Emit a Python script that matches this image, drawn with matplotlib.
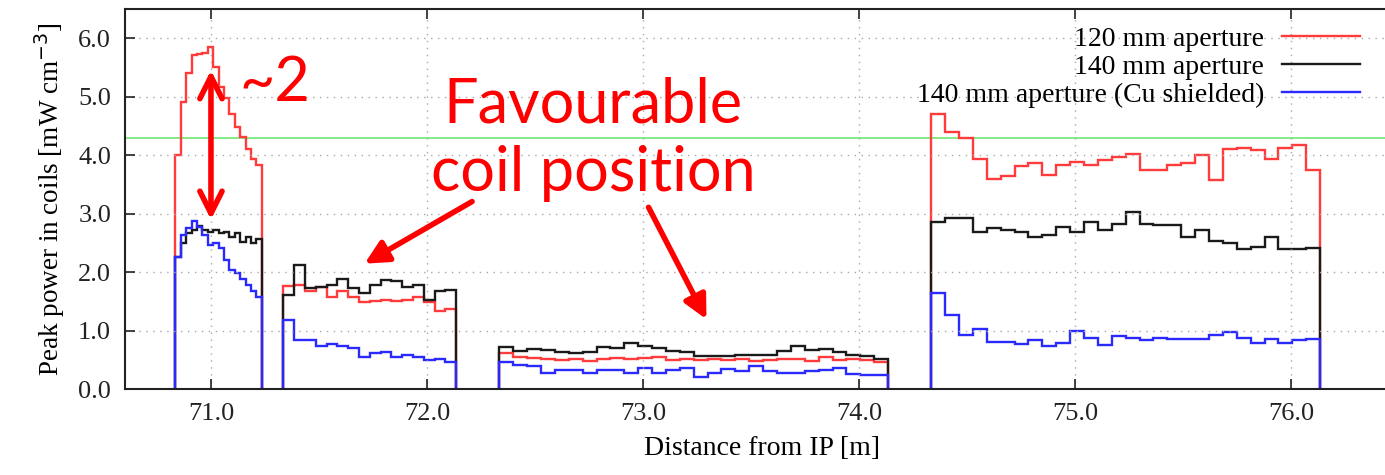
import numpy as np
import matplotlib
matplotlib.use('Agg')
import matplotlib.pyplot as plt

# coil blocks: start, end [m] and number of bins
block_start = [70.835, 71.335, 72.335, 74.335]
block_end = [71.235, 72.135, 74.135, 76.135]
block_bins = [16, 16, 28, 28]

# peak power per bin [mW cm^-3], one list per block
red = [
    [4.00, 4.91, 5.41, 5.71, 5.73, 5.75, 5.85, 5.51, 5.17, 4.97, 4.71, 4.48, 4.31, 4.11, 3.94, 3.83],
    [1.76, 1.78, 1.68, 1.75, 1.57, 1.68, 1.58, 1.49, 1.51, 1.53, 1.50, 1.53, 1.58, 1.49, 1.33, 1.37],
    [0.61, 0.54, 0.53, 0.52, 0.50, 0.52, 0.48, 0.52, 0.53, 0.52, 0.53, 0.55, 0.50, 0.52,
     0.50, 0.51, 0.50, 0.52, 0.48, 0.50, 0.52, 0.52, 0.48, 0.55, 0.50, 0.52, 0.50, 0.46],
    [4.71, 4.40, 4.30, 3.94, 3.60, 3.64, 3.81, 3.86, 3.66, 3.83, 3.88, 3.84, 3.91, 3.97,
     4.02, 3.75, 3.75, 3.83, 3.87, 4.00, 3.58, 4.10, 4.13, 4.09, 3.93, 4.13, 4.17, 3.75],
]
black = [
    [2.25, 2.49, 2.66, 2.72, 2.79, 2.72, 2.68, 2.72, 2.66, 2.68, 2.60, 2.67, 2.52, 2.60, 2.49, 2.57],
    [1.60, 2.12, 1.72, 1.75, 1.78, 1.88, 1.72, 1.64, 1.78, 1.87, 1.84, 1.74, 1.78, 1.53, 1.68, 1.70],
    [0.71, 0.65, 0.68, 0.67, 0.63, 0.61, 0.63, 0.71, 0.70, 0.78, 0.74, 0.70, 0.65, 0.63,
     0.57, 0.57, 0.57, 0.59, 0.58, 0.59, 0.65, 0.74, 0.67, 0.68, 0.63, 0.59, 0.57, 0.52],
    [2.86, 2.93, 2.93, 2.69, 2.76, 2.72, 2.68, 2.60, 2.64, 2.77, 2.68, 2.86, 2.72, 2.82,
     3.03, 2.82, 2.80, 2.80, 2.60, 2.72, 2.54, 2.50, 2.39, 2.43, 2.60, 2.39, 2.39, 2.41],
]
blue = [
    [2.25, 2.63, 2.76, 2.87, 2.77, 2.63, 2.47, 2.50, 2.41, 2.21, 2.04, 1.98, 1.89, 1.78, 1.68, 1.57],
    [1.18, 0.84, 0.84, 0.74, 0.77, 0.73, 0.70, 0.55, 0.61, 0.64, 0.55, 0.59, 0.55, 0.49, 0.51, 0.47],
    [0.455, 0.41, 0.39, 0.27, 0.32, 0.32, 0.28, 0.32, 0.32, 0.28, 0.36, 0.28, 0.32, 0.36,
     0.21, 0.28, 0.35, 0.30, 0.40, 0.30, 0.28, 0.27, 0.30, 0.33, 0.36, 0.25, 0.24, 0.24],
    [1.64, 1.26, 0.92, 1.02, 0.81, 0.81, 0.77, 0.83, 0.74, 0.79, 1.00, 0.88, 0.75, 0.90,
     0.88, 0.83, 0.88, 0.86, 0.86, 0.86, 0.93, 0.97, 0.88, 0.78, 0.85, 0.78, 0.83, 0.85],
]
labels = ['120 mm aperture', '140 mm aperture', '140 mm aperture (Cu shielded)']
colors = ['#ff3b3b', '#1a1a1a', '#2a2aff']
limit = 4.3

plt.rcParams['font.family'] = ['Liberation Serif', 'DejaVu Serif']

fig = plt.figure(figsize=(13.85, 4.75), dpi=100)
ax = fig.add_axes([125 / 1385, 1 - 389 / 475, 1275 / 1385, 380 / 475])

for series, col, lab in zip([red, black, blue], colors, labels):
    for i in range(len(block_start)):
        edges = np.linspace(block_start[i], block_end[i], block_bins[i] + 1)
        ax.stairs(series[i], edges, baseline=0, color=col, lw=1.7,
                  label=lab if i == 0 else None)

ax.axhline(limit, color='#6fe86f', lw=1.2, zorder=0)

ax.set_xlim(70.602, 76.505)
ax.set_ylim(0, 6.5)
ax.set_xticks([71, 72, 73, 74, 75, 76])
ax.set_yticks([0, 1, 2, 3, 4, 5, 6])
ax.xaxis.set_major_formatter('{x:.1f}')
ax.yaxis.set_major_formatter('{x:.1f}')
ax.tick_params(direction='in', length=7, width=1.2, top=True, right=True,
               labelsize=19, colors='#222222', pad=10)
ax.grid(True, color='#a8a8a8', linestyle=(0, (1, 4)), lw=1)
for s in ax.spines.values():
    s.set_linewidth(1.5)
    s.set_color('#222222')

ax.set_xlabel('Distance from IP [m]', fontsize=20, labelpad=8)
ax.set_ylabel('Peak power in coils [mW cm$^{-3}$]', fontsize=19.5, labelpad=8)

leg = ax.legend(loc='upper right', bbox_to_anchor=(0.9686, 0.955), frameon=False,
                markerfirst=False, fontsize=20, handlelength=2.8, handletextpad=0.65,
                labelspacing=0.1, borderaxespad=0, borderpad=0)

# annotations
red_c = '#ff0000'
ax.annotate('', xy=(71.0, 5.50), xytext=(71.0, 2.85),
            arrowprops=dict(arrowstyle='<->', color=red_c, lw=4, mutation_scale=40))
ax.text(71.13, 5.22, '~2', color=red_c, fontsize=44, family='Lato', va='center', ha='left')
ax.text(72.77, 4.28, 'Favourable\ncoil position', color=red_c, fontsize=44, family='Lato',
        va='center', ha='center', linespacing=1.25)
ax.annotate('', xy=(71.70, 2.12), xytext=(72.22, 3.23),
            arrowprops=dict(arrowstyle='-|>', color=red_c, lw=4, mutation_scale=35))
ax.annotate('', xy=(73.30, 1.15), xytext=(73.02, 3.15),
            arrowprops=dict(arrowstyle='-|>', color=red_c, lw=4, mutation_scale=35))

fig.savefig('out.png', dpi=100)
